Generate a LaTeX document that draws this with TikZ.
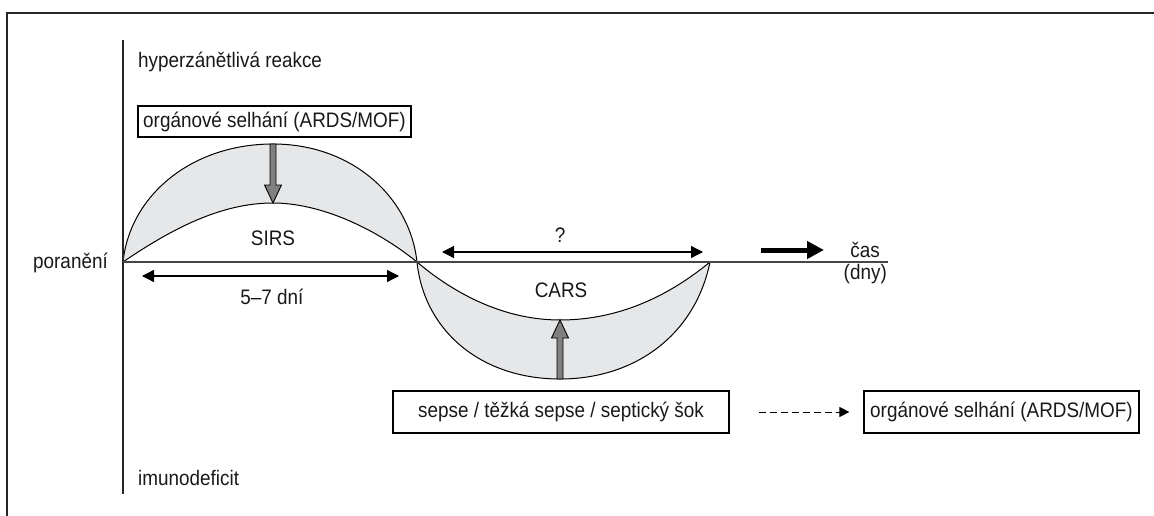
\documentclass[tikz,border=0pt]{standalone}
\usepackage{fontspec}
\setmainfont{Liberation Sans}[FakeStretch=0.9]
\usetikzlibrary{arrows.meta}
\definecolor{lens}{RGB}{230,231,233}
\definecolor{arrowgray}{RGB}{128,128,128}
\definecolor{axisgray}{RGB}{70,70,70}
\begin{document}
\begin{tikzpicture}[x=1pt,y=-1pt,
  font=\fontsize{21pt}{25pt}\selectfont,
  every node/.style={inner sep=0pt, text=black!90},
  box/.style={draw, line width=1.2pt, inner sep=0pt},
  curve/.style={line width=1pt},
  dbl/.style={line width=1.3pt, {Triangle[length=12pt,width=12pt]}-{Triangle[length=12pt,width=12pt]}},
  fatarrow/.pic={\draw[fill=arrowgray, line width=0.9pt, line join=miter]
     (0,0) -- (8.5,-18) -- (3,-18) -- (3,-59) -- (-3,-59) -- (-3,-18) -- (-8.5,-18) -- cycle;}
]
\useasboundingbox (0,0) rectangle (1154,516);
% frame
\draw[line width=1.5pt, black!85] (1160,13) -- (7,13) -- (7,520);

% key points
\coordinate (A) at (123,262);
\coordinate (P1) at (273,144);
\coordinate (X) at (417,262);
\coordinate (P2) at (273,203);
\coordinate (B1) at (560,379);
\coordinate (B2) at (560,320);
\coordinate (E) at (710,262);

% lens fills
\fill[lens] (A) .. controls (130,195) and (192,144) .. (P1) .. controls (352,144) and (410,197) .. (X)
   .. controls (375,228) and (320,203) .. (P2) .. controls (220,203) and (170,230) .. (A) -- cycle;
\fill[lens] (X) .. controls (424,330) and (480,379) .. (B1) .. controls (635,379) and (695,335) .. (E)
   .. controls (670,295) and (620,320) .. (B2) .. controls (500,320) and (450,290) .. (X) -- cycle;

% curves
\draw[curve] (A) .. controls (130,195) and (192,144) .. (P1) .. controls (352,144) and (410,197) .. (X)
   .. controls (424,330) and (480,379) .. (B1) .. controls (635,379) and (695,335) .. (E);
\draw[curve] (A) .. controls (170,230) and (220,203) .. (P2) .. controls (320,203) and (375,228) .. (X)
   .. controls (450,290) and (500,320) .. (B2) .. controls (620,320) and (670,295) .. (E);

% axes
\coordinate (vtop) at (123,40);
\coordinate (vbot) at (123,494);
\coordinate (hend) at (888,262);
\draw[line width=1.4pt, black!85] (vtop) -- (vbot);
\draw[line width=1.8pt, axisgray] (A) -- (hend);

% texts
\node[anchor=base west] (hyper) at (138,68) {hyperzánětlivá reakce};
\node[box, minimum width=273pt, minimum height=31pt] (organ1) at (274.5,121.5) {orgánové selhání (ARDS/MOF)};
\node[anchor=base] (sirs) at (273,245) {SIRS};
\node[anchor=base east] (poran) at (108,268) {poranění};
\node[anchor=base] (days) at (272,304) {5–7 dní};
\node[anchor=base] (q) at (560,242) {?};
\node[anchor=base] (cars) at (561,297) {CARS};
\node[anchor=base east] (cas) at (880,257) {čas};
\node[anchor=base east] (dny) at (887,279) {(dny)};
\node[anchor=base west] (imuno) at (138,485) {imunodeficit};
\node[box, minimum width=336pt, minimum height=42pt] (sepse) at (561,412) {sepse / těžká sepse / septický šok};
\node[box, minimum width=275pt, minimum height=42pt] (organ2) at (1001.5,412) {orgánové selhání (ARDS/MOF)};

% gray arrows
\pic (sirsarrow) at (P2) {fatarrow};
\pic[rotate=180] (carsarrow) at (B2) {fatarrow};

% double arrows
\coordinate (d1a) at (142,276);
\coordinate (d1b) at (399,276);
\coordinate (d2a) at (442,252);
\coordinate (d2b) at (703,252);
\draw[dbl] (d1a) -- (d1b);
\draw[dbl] (d2a) -- (d2b);

% time arrow
\coordinate (t1) at (761,250);
\coordinate (t2) at (824,250);
\draw[line width=5pt, -{Triangle[length=17pt,width=17pt]}] (t1) -- (t2);

% dashed arrow
\draw[line width=1pt, dash pattern=on 7pt off 4pt, -{Triangle[length=10pt,width=10pt]}]
  ([xshift=29pt]sepse.east) -- ([xshift=-14pt]organ2.west);
\end{tikzpicture}
\end{document}
